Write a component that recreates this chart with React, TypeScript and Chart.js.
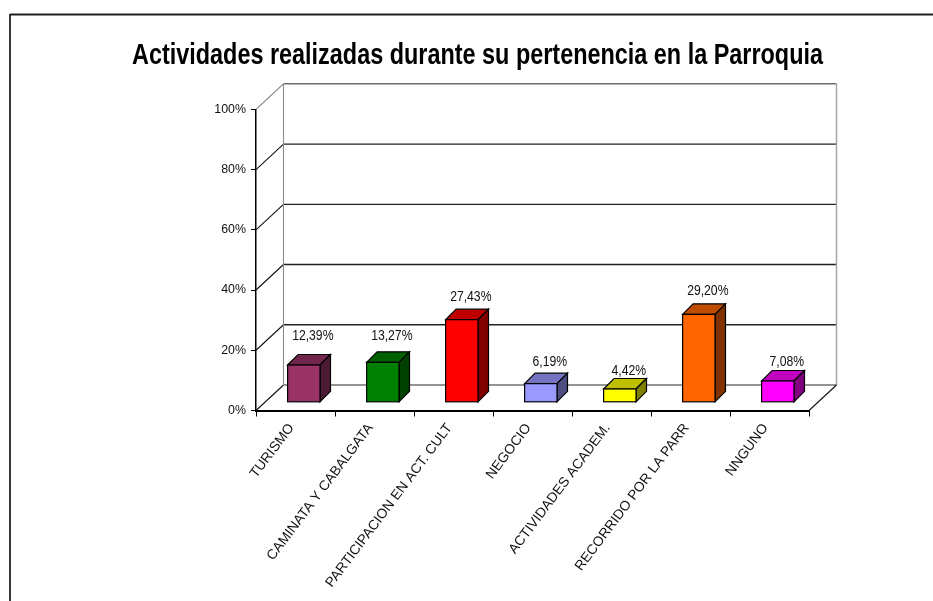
import React, { useEffect, useRef } from "react";
import { Chart, registerables } from "chart.js";

Chart.register(...registerables);

const categories = [
  "TURISMO",
  "CAMINATA Y CABALGATA",
  "PARTICIPACION EN ACT. CULT",
  "NEGOCIO",
  "ACTIVIDADES ACADEM.",
  "RECORRIDO POR LA PARR",
  "NNGUNO",
];
const values = [12.39, 13.27, 27.43, 6.19, 4.42, 29.2, 7.08];
const valueLabels = ["12,39%", "13,27%", "27,43%", "6,19%", "4,42%", "29,20%", "7,08%"];
const barColors = [
  [153, 51, 102],
  [0, 128, 0],
  [255, 0, 0],
  [153, 153, 255],
  [255, 255, 0],
  [255, 102, 0],
  [255, 0, 255],
];
const chartTitle = "Actividades realizadas durante su pertenencia en la Parroquia";
const gridValues = [0, 20, 40, 60, 80, 100];

const FONT = '"Liberation Sans", Arial, sans-serif';
const WALL_DX = 27.5;
const WALL_DY = -25.5;
const BAR_DX = 8.3;
const BAR_DY = -8.2;
const DEPTH_X = 10.5;
const DEPTH_Y = -10.5;
const labelLift = [29, 27, 23, 22, 18, 24, 19];

const rgb = (c: number[], f = 1) =>
  `rgb(${Math.round(c[0] * f)},${Math.round(c[1] * f)},${Math.round(c[2] * f)})`;

const line = (ctx: any, x1: number, y1: number, x2: number, y2: number, color: string, w = 1) => {
  ctx.beginPath();
  ctx.moveTo(x1, y1);
  ctx.lineTo(x2, y2);
  ctx.strokeStyle = color;
  ctx.lineWidth = w;
  ctx.stroke();
};

const poly = (ctx: any, pts: number[][], fill: string) => {
  ctx.beginPath();
  pts.forEach((p, i) => (i ? ctx.lineTo(p[0], p[1]) : ctx.moveTo(p[0], p[1])));
  ctx.closePath();
  ctx.fillStyle = fill;
  ctx.fill();
  ctx.strokeStyle = "#000";
  ctx.lineWidth = 1.2;
  ctx.stroke();
};

const box3d = {
  id: "box3d",
  beforeDraw(chart: any) {
    const { ctx, width, height } = chart;
    ctx.save();
    ctx.fillStyle = "#fff";
    ctx.fillRect(0, 0, width, height);
    line(ctx, 10, 14.5, width, 14.5, "#222", 1.8);
    line(ctx, 10, 14, 10, height, "#222", 1.8);
    ctx.restore();
  },
  beforeDatasetsDraw(chart: any) {
    const { ctx } = chart;
    const x = chart.scales.x;
    const y = chart.scales.y;
    const L = x.left;
    const R = x.right;
    ctx.save();
    for (const v of gridValues) {
      const py = y.getPixelForValue(v);
      const edge = v === 0 || v === 100;
      line(ctx, L, py, L + WALL_DX, py + WALL_DY, edge && v === 100 ? "#808080" : "#111", 1.1);
      line(ctx, L + WALL_DX, py + WALL_DY, R + WALL_DX, py + WALL_DY, edge ? "#707070" : "#222", edge ? 1.6 : 1.3);
    }
    const top = y.getPixelForValue(100) + WALL_DY;
    const bot = y.getPixelForValue(0) + WALL_DY;
    line(ctx, L + WALL_DX, top, L + WALL_DX, bot, "#8c8c8c", 1.1);
    line(ctx, R + WALL_DX, top, R + WALL_DX, bot, "#a6a6a6", 1.5);
    line(ctx, R, y.getPixelForValue(0), R + WALL_DX, bot, "#111", 1.1);
    ctx.restore();
  },
  beforeDatasetDraw(chart: any, args: any) {
    const { ctx } = chart;
    ctx.save();
    ctx.translate(BAR_DX, BAR_DY);
    args.meta.data.forEach((bar: any, i: number) => {
      const w = bar.width / 2;
      const xl = bar.x - w;
      const xr = bar.x + w;
      const c = barColors[i];
      poly(ctx, [[xl, bar.y], [xl + DEPTH_X, bar.y + DEPTH_Y], [xr + DEPTH_X, bar.y + DEPTH_Y], [xr, bar.y]], rgb(c, 0.75));
      poly(ctx, [[xr, bar.y], [xr + DEPTH_X, bar.y + DEPTH_Y], [xr + DEPTH_X, bar.base + DEPTH_Y], [xr, bar.base]], rgb(c, 0.5));
    });
  },
  afterDatasetDraw(chart: any, args: any) {
    const { ctx } = chart;
    args.meta.data.forEach((bar: any) => {
      ctx.strokeStyle = "#000";
      ctx.lineWidth = 1.2;
      ctx.strokeRect(bar.x - bar.width / 2, bar.y, bar.width, bar.base - bar.y);
    });
    ctx.restore();
  },
  afterDatasetsDraw(chart: any) {
    const { ctx } = chart;
    const meta = chart.getDatasetMeta(0);
    ctx.save();
    ctx.font = `12.2px ${FONT}`;
    ctx.fillStyle = "#111";
    ctx.textAlign = "center";
    ctx.textBaseline = "middle";
    meta.data.forEach((bar: any, i: number) => {
      const tx = bar.x + BAR_DX + 9;
      const ty = bar.y + BAR_DY - labelLift[i];
      ctx.save();
      ctx.translate(tx, ty);
      ctx.scale(1, 1.25);
      ctx.fillText(valueLabels[i], 0, 0);
      ctx.restore();
    });
    ctx.restore();
  },
};

export default function App() {
  const ref = useRef<HTMLCanvasElement>(null);
  useEffect(() => {
    const chart = new Chart(ref.current!, {
      type: "bar",
      data: {
        labels: categories,
        datasets: [
          {
            data: values,
            backgroundColor: barColors.map((c) => rgb(c)),
            borderColor: "#000",
            borderWidth: 0,
            borderSkipped: false,
            barPercentage: 0.41,
            categoryPercentage: 1,
            clip: false,
          } as any,
        ],
      },
      plugins: [box3d],
      options: {
        animation: false,
        responsive: false,
        layout: { padding: { left: 132, right: 110, top: 0, bottom: 0 } },
        plugins: {
          legend: { display: false },
          tooltip: { enabled: false },
          title: {
            display: true,
            text: chartTitle,
            color: "#000",
            font: { family: FONT, size: 29, weight: "bold", lineHeight: 1 },
            padding: { top: 41.5, bottom: 38.8 },
          },
        },
        scales: {
          x: {
            afterFit: (s: any) => {
              s.height = 190.5;
            },
            grid: { drawOnChartArea: false, color: "#000", tickLength: 6, tickColor: "#000" },
            border: { color: "#000", width: 2 },
            ticks: {
              autoSkip: false,
              minRotation: 53,
              maxRotation: 53,
              color: "#111",
              padding: 4,
              labelOffset: -4,
              font: { family: FONT, size: 13.8 },
            },
          },
          y: {
            min: 0,
            max: 100,
            afterFit: (s: any) => {
              s.width = 124;
            },
            grid: { drawOnChartArea: false, color: "#000", tickLength: 5, tickColor: "#000" },
            border: { color: "#000", width: 1.5 },
            ticks: {
              stepSize: 20,
              color: "#111",
              padding: 5,
              font: { family: FONT, size: 12.4 },
              callback: (v: any) => `${v}%`,
            },
          },
          gutter: {
            type: "linear",
            position: "right",
            afterFit: (s: any) => {
              s.width = 14;
            },
            grid: { display: false },
            border: { display: false },
            ticks: { display: false },
          },
        },
      },
    } as any);
    return () => chart.destroy();
  }, []);
  return (
    <canvas
      ref={ref}
      width={933}
      height={601}
      style={{ position: "absolute", left: 0, top: 0, width: 933, height: 601, display: "block" }}
    />
  );
}
